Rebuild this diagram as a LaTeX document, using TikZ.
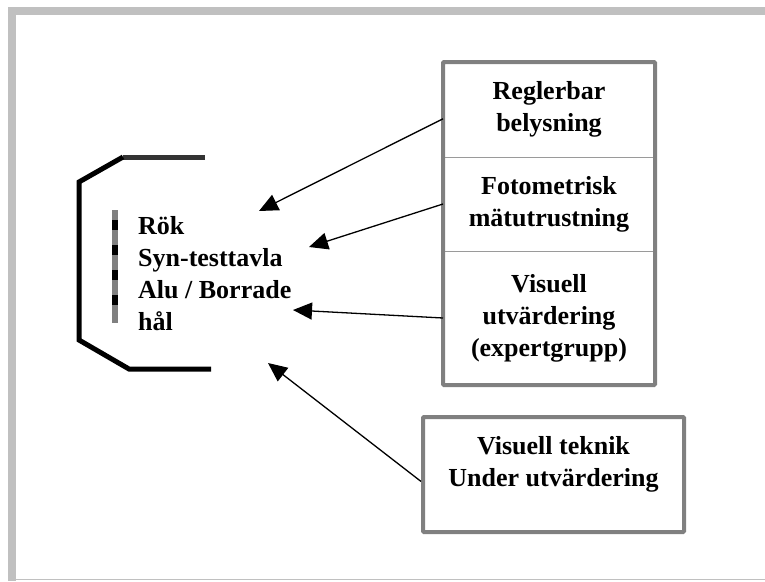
\documentclass[tikz,border=0pt]{standalone}
\usepackage{fontspec}
\setmainfont{Liberation Serif}
\usepackage{xcolor}
\usepackage{tikz}
\usetikzlibrary{arrows.meta,positioning}

\definecolor{framegray}{HTML}{C0C0C0}
\definecolor{boxgray}{HTML}{808080}
\definecolor{rulegray}{HTML}{9A9A9A}

\begin{document}
\begin{tikzpicture}[x=1pt, y=-1pt,
cell/.style={draw=rulegray, line width=1pt, align=center, minimum width=212pt, inner sep=0pt, outer sep=0pt, font=\fontsize{26}{32}\selectfont\bfseries},
infobox/.style={draw=boxgray, line width=4pt, rounded corners=1pt, minimum width=261pt, minimum height=115pt, inner sep=0pt},
list/.style={align=left, inner sep=0pt, anchor=north west, font=\fontsize{26}{32}\selectfont\bfseries},
arrow/.style={-{Triangle[length=19pt,width=17pt]}, line width=1.3pt}
]
\useasboundingbox (0,0) rectangle (765,581);
% outer frame
\fill[framegray] (8,7) rectangle (765,15);
\fill[framegray] (8,7) rectangle (16,581);
\draw[framegray, line width=1.5pt] (16,579.5) -- (765,579.5);

% holder
\draw[black!80, line width=5pt] (205,157) -- (123,157);
\draw[line width=5pt, line join=miter] (123,157) -- (79,182) -- (79,340) -- (129,369) -- (211,369);
\draw[boxgray, line width=6pt] (115,210) -- (115,323);
\draw[line width=6pt, dash pattern=on 10pt off 15pt] (115,220) -- (115,306);
\node[list] (test) at (138,216) {Rök\\Syn-testtavla\\Alu / Borrade\\hål};

% methods
\node[cell, minimum height=95pt] (regl) at (549,109.5) {Reglerbar\\belysning};
\node[cell, minimum height=94pt, below=0pt of regl] (foto) {Fotometrisk\\mätutrustning};
\node[cell, minimum height=134pt, below=0pt of foto] (visu) {Visuell\\utvärdering\\(expertgrupp)};
\draw[boxgray, line width=4pt, rounded corners=1pt] (regl.north west) rectangle (visu.south east);

\node[infobox] (teknik) at (553.5,474.5) {};
\node[cell, draw=none, anchor=north] (tekniktxt) at ([yshift=-21pt]teknik.north) {Visuell teknik\\Under utvärdering};

% arrows
\coordinate (t1) at (259,211);
\coordinate (t2) at (309,247);
\coordinate (t3) at (293,310);
\coordinate (t4) at (268,363);
\draw[arrow] (regl.185) -- (t1);
\draw[arrow] (foto.west) -- (t2);
\draw[arrow] (visu.west) -- (t3);
\draw[arrow] (teknik.183) -- (t4);
\end{tikzpicture}
\end{document}
